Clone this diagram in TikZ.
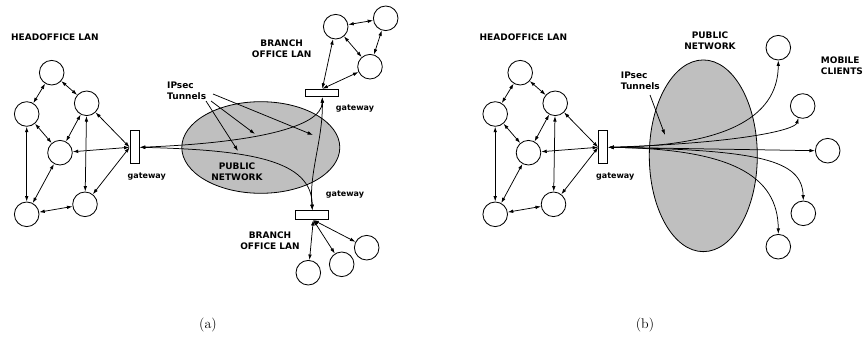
\documentclass[tikz,border=0pt]{standalone}
\usepackage{fontspec}
\newfontfamily\lab{DejaVu Sans}
\usetikzlibrary{arrows.meta,shapes.geometric}

\tikzset{
  host/.style={circle, draw, line width=0.85pt, minimum size=24.6pt, inner sep=0pt},
  gwbox/.style={rectangle, draw, line width=0.85pt, inner sep=0pt, fill=white},
  lbl/.style={font=\lab\bfseries\fontsize{9}{11.3}\selectfont, inner sep=0pt},
  gwlbl/.style={font=\lab\bfseries\fontsize{8}{10}\selectfont, inner sep=0pt},
  link/.style={{Latex[length=5.5pt,width=3.6pt]}-{Latex[length=5.5pt,width=3.6pt]}, line width=0.75pt},
  pointer/.style={-{Latex[length=5.5pt,width=3.6pt]}, line width=0.75pt},
  cloud/.style={ellipse, draw, line width=0.8pt, fill=black!25, inner sep=0pt},
  caption/.style={font=\fontsize{14}{16}\selectfont, inner sep=0pt}
}

% head office LAN with its gateway; #1 = name prefix, #2 = horizontal shift
\newcommand{\hqlan}[2]{%
\begin{scope}[xshift=#2]
  \node[host] (#1h1) at (51.7,72.7) {};
  \node[host] (#1h2) at (26.7,114) {};
  \node[host] (#1h3) at (86.7,103.3) {};
  \node[host] (#1h4) at (60,152.7) {};
  \node[host] (#1h5) at (26.7,214.3) {};
  \node[host] (#1h6) at (85,204.3) {};
  \node[gwbox, minimum width=9.3pt, minimum height=33pt] (#1gw) at (134.7,147.3) {};
  \node[gwlbl] at (146.7,176.7) {gateway};
  \node[lbl, anchor=west] at (11,37) {HEADOFFICE LAN};
  \draw[link] (#1h1) -- (#1h2);
  \draw[link] (#1h1) -- (#1h3);
  \draw[link] (#1h2) -- (#1h4);
  \draw[link] (#1h3) -- (#1h4);
  \draw[link] (#1h2) -- (#1h5);
  \draw[link] (#1h3) -- (#1h6);
  \draw[link] (#1h4) -- (#1h5);
  \draw[link] (#1h5) -- (#1h6);
  \draw[link] (#1h3) -- (#1gw.west);
  \draw[link] (#1h4) -- (#1gw.west);
  \draw[link] (#1h6) -- (#1gw.west);
\end{scope}}

\begin{document}
\begin{tikzpicture}[x=1pt, y=-1pt]
\useasboundingbox (0,0) rectangle (864,337);

% ---------- (a) site-to-site tunnels ----------
\node[cloud, minimum width=158pt, minimum height=91.6pt] (netA) at (260.8,147.5) {};
\node[lbl, align=center] at (237,171.5) {PUBLIC\\NETWORK};

\hqlan{a}{0pt}

% upper branch office
\node[gwbox, minimum width=33pt, minimum height=7.5pt] (ugw) at (322.3,93) {};
\node[gwlbl] at (355,109) {gateway};
\node[lbl, align=center] at (281.7,49) {BRANCH\\OFFICE LAN};
\node[host] (u1) at (335.7,26.7) {};
\node[host] (u2) at (385.7,18.3) {};
\node[host] (u3) at (370,66.7) {};
\draw[link] (u1) -- (u2);
\draw[link] (u2) -- (u3);
\draw[link] (u1) -- (u3);
\draw[link] (u1) -- (ugw.north);
\draw[link] (u3) -- (ugw.north);

% lower branch office
\node[gwbox, minimum width=33pt, minimum height=8.3pt] (lgw) at (312.3,214.8) {};
\node[gwlbl] at (345,195) {gateway};
\node[lbl, align=center] at (270,241) {BRANCH\\OFFICE LAN};
\node[host] (l1) at (308.3,272.7) {};
\node[host] (l2) at (341.7,264.3) {};
\node[host] (l3) at (366.7,247.7) {};
\coordinate (lgwb) at (313.3,220);
\draw[link] (lgwb) -- (l1);
\draw[link] (lgwb) -- (l2);
\draw[link] (lgwb) -- (l3);

% tunnels
\draw[link] (agw.east) .. controls (250,143) and (322,128) .. (ugw.south);
\draw[link] (agw.east) .. controls (250,150) and (312,160) .. (lgw.north);
\draw[link] (ugw.south) .. controls (323,140) and (309,172) .. (lgw.north);

\node[lbl, align=left, anchor=west] (ipA) at (167,90.5) {IPsec\\Tunnels};
\coordinate (pa1) at (213,94);
\coordinate (pa2) at (211,101);
\coordinate (pa3) at (206,101);
\coordinate (ta1) at (313,135);
\coordinate (ta2) at (255,134);
\coordinate (ta3) at (238,151);
\draw[pointer] (pa1) -- (ta1);
\draw[pointer] (pa2) -- (ta2);
\draw[pointer] (pa3) -- (ta3);

% ---------- (b) remote access ----------
\node[cloud, minimum width=108pt, minimum height=191.7pt] (netB) at (703.3,155.8) {};
\node[lbl, align=center] at (710,41) {PUBLIC\\NETWORK};

\hqlan{b}{468.5pt}

\node[lbl, align=left, anchor=west] at (620.7,80.5) {IPsec\\Tunnels};
\node[lbl, align=left, anchor=west] at (820.7,66) {MOBILE\\CLIENTS};
\coordinate (pb) at (650,95);
\coordinate (tb) at (665,135);
\draw[pointer] (pb) -- (tb);

\node[host] (m1) at (778.3,47.7) {};
\node[host] (m2) at (802.7,106) {};
\node[host] (m3) at (827.7,150.7) {};
\node[host] (m4) at (803.3,213.3) {};
\node[host] (m5) at (778.3,246.7) {};
\draw[link] (bgw.east) .. controls (720,146) and (778,120) .. (m1.south);
\draw[link] (bgw.east) .. controls (740,143) and (795,130) .. (m2.250);
\draw[link] (bgw.east) -- (m3.west);
\draw[link] (bgw.east) .. controls (760,150) and (802,160) .. (m4.north);
\draw[link] (bgw.east) .. controls (730,149) and (778,175) .. (m5.north);

% captions
\node[caption] (capa) at (208,325) {(a)};
\node[caption] (capb) at (645,325) {(b)};
\end{tikzpicture}
\end{document}
